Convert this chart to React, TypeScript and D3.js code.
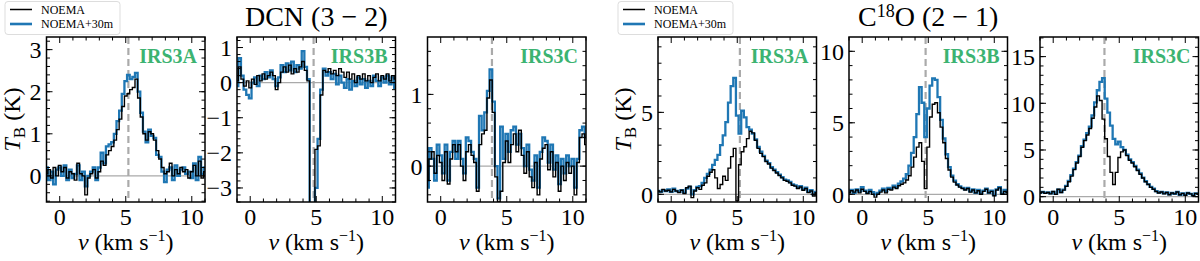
import * as d3 from "d3";

// channel velocities (km/s)
const velocity = [
  -1.0, -0.8, -0.6, -0.4, -0.2, 0.0, 0.2, 0.4, 0.6, 0.8, 1.0, 1.2, 1.4, 1.6, 1.8, 2.0,
  2.2, 2.4, 2.6, 2.8, 3.0, 3.2, 3.4, 3.6, 3.8, 4.0, 4.2, 4.4, 4.6, 4.8, 5.0, 5.2, 5.4,
  5.6, 5.8, 6.0, 6.2, 6.4, 6.6, 6.8, 7.0, 7.2, 7.4, 7.6, 7.8, 8.0, 8.2, 8.4, 8.6, 8.8,
  9.0, 9.2, 9.4, 9.6, 9.8, 10.0, 10.2, 10.4, 10.6, 10.8, 11.0,
];

// DCN (3-2)
const dcnA_noema = [
  0.05, 0.15, -0.05, 0.2, 0.0, 0.25, 0.1, 0.2, -0.05, 0.1, 0.05, -0.1, 0.3, 0.05, 0.0, -0.45,
  -0.05, 0.05, 0.15, -0.05, 0.1, 0.35, 0.25, 0.5, 0.6, 0.7, 0.85, 1.1, 1.35, 1.65, 1.9, 1.95, 2.05,
  2.1, 2.3, 1.85, 1.4, 1.0, 0.85, 1.05, 1.0, 0.85, 0.6, 0.4, 0.2, 0.05, 0.1, 0.3, 0.0, 0.15,
  0.05, 0.2, 0.1, 0.15, -0.05, 0.1, 0.25, 0.0, 0.35, -0.05, 0.1,
];
const dcnA_combo = [
  0.2, -0.1, 0.1, -0.2, 0.15, 0.2, 0.0, 0.25, -0.1, 0.15, -0.05, 0.05, 0.25, -0.1, 0.1, -0.25,
  0.0, 0.1, 0.2, -0.1, 0.2, 0.55, 0.3, 0.7, 0.75, 0.8, 1.0, 1.3, 1.55, 1.95, 2.25, 2.4, 2.3,
  2.35, 2.45, 2.0, 1.5, 1.05, 0.8, 1.1, 0.95, 0.9, 0.5, 0.45, 0.1, -0.15, 0.15, 0.2, -0.1, 0.25,
  0.0, 0.15, 0.2, 0.05, 0.1, -0.05, 0.3, -0.1, 0.45, 0.05, 0.2,
];
const dcnB_noema = [
  0.05, 0.45, 0.1, -0.1, 0.05, -0.15, 0.1, -0.05, 0.2, 0.05, 0.25, 0.1, 0.2, 0.3, 0.2, -0.2,
  0.0, 0.3, 0.45, 0.3, 0.5, 0.25, 0.4, 0.3, 0.45, 0.6, 0.35, 0.05, -3.6, -3.6, -1.9, -1.8, -0.35,
  0.35, 0.3, 0.4, 0.25, 0.35, 0.2, 0.4, 0.3, 0.15, 0.3, 0.1, 0.25, 0.0, 0.2, 0.1, 0.25, 0.05,
  0.2, 0.0, 0.15, 0.25, 0.05, 0.2, 0.1, 0.25, 0.05, 0.2, 0.1,
];
const dcnB_combo = [
  -0.1, 0.7, 0.2, -0.2, -0.35, -0.45, 0.0, 0.15, -0.1, 0.2, 0.1, 0.3, 0.15, 0.35, 0.1, -0.1,
  0.15, 0.5, 0.3, 0.55, 0.35, 0.6, 0.3, 0.5, 0.4, 0.9, 0.45, 0.1, -3.6, -3.6, -3.0, -1.6, -0.2,
  0.4, 0.2, 0.3, 0.1, 0.25, -0.05, 0.2, 0.0, -0.15, 0.1, -0.2, 0.05, -0.1, 0.15, -0.05, 0.1, -0.15,
  0.05, -0.1, 0.2, 0.05, -0.1, 0.15, 0.0, 0.2, -0.05, 0.15, -0.15,
];
const dcnC_noema = [
  -0.2, 0.1, 0.2, -0.1, 0.15, 0.05, -0.2, 0.2, -0.25, 0.1, 0.3, 0.2, 0.3, 0.0, -0.2, 0.2,
  0.3, 0.15, 0.05, -0.35, 0.3, 0.45, 0.5, 0.95, 1.2, 0.75, -0.15, -0.5, -0.35, 0.05, 0.35, 0.05, 0.3,
  0.45, 0.2, 0.5, 0.15, -0.1, 0.2, -0.15, -0.3, 0.05, -0.4, 0.1, 0.25, 0.3, -0.05, 0.2, -0.15, 0.05,
  -0.35, 0.0, -0.2, 0.05, -0.1, 0.0, -0.4, 0.05, 0.4, 0.45, 0.3,
];
const dcnC_combo = [
  -0.3, 0.25, 0.1, -0.2, 0.3, 0.15, -0.1, 0.3, -0.2, 0.2, 0.35, 0.1, 0.35, 0.1, -0.1, 0.4,
  0.35, 0.2, 0.1, -0.3, 0.7, 0.5, 0.75, 1.05, 1.35, 0.9, 0.0, -0.45, 0.55, 0.1, 0.45, 0.2, 0.5,
  0.55, 0.3, 0.45, 0.25, 0.0, 0.3, -0.05, -0.2, 0.15, -0.3, 0.2, 0.4, 0.35, 0.05, 0.3, -0.05, 0.15,
  -0.25, 0.1, -0.1, 0.15, 0.0, 0.1, -0.3, 0.1, 0.5, 0.55, 0.4,
];

// C18O (2-1)
const c18oA_noema = [
  0.2, 0.15, 0.3, 0.2, 0.25, 0.15, 0.3, 0.2, 0.1, 0.25, 0.05, 0.4, 0.5, -0.2, 0.2, 0.4,
  0.3, 0.55, 0.7, 1.1, 1.35, 1.5, 1.0, 0.35, 0.6, 1.1, 0.85, 1.6, 2.3, 2.8, -0.4, 1.8, 2.6,
  2.9, 3.4, 3.85, 3.75, 3.3, 2.8, 2.5, 2.3, 2.0, 1.85, 1.6, 1.45, 1.3, 1.15, 1.0, 0.85, 0.8,
  0.7, 0.55, 0.5, 0.35, 0.45, 0.25, 0.35, 0.1, 0.2, -0.1, 0.1,
];
const c18oA_combo = [
  0.2, 0.15, 0.25, 0.2, 0.3, 0.15, 0.35, 0.2, 0.15, 0.25, 0.1, 0.35, 0.45, 0.0, 0.25, 0.45,
  0.5, 0.7, 1.0, 1.25, 1.5, 1.8, 2.1, 2.4, 3.0, 3.6, 4.4, 5.6, 6.6, 7.1, 4.8, 3.7, 5.1,
  4.7, 4.1, 3.95, 3.7, 3.35, 2.9, 2.6, 2.35, 2.05, 1.9, 1.65, 1.5, 1.35, 1.2, 1.05, 0.9, 0.85,
  0.75, 0.6, 0.55, 0.4, 0.5, 0.3, 0.4, 0.15, 0.25, 0.0, 0.15,
];
const c18oB_noema = [
  0.1, 0.25, 0.15, 0.3, 0.1, 0.35, 0.2, 0.05, 0.2, 0.0, -0.2, 0.0, 0.15, 0.3, 0.1, 0.35,
  0.3, 0.5, 0.4, 0.6, 0.7, 0.8, 1.0, 1.3, 1.9, 2.6, 3.3, 3.6, 2.3, 0.4, 3.3, 5.4, 6.3,
  6.4, 5.7, 4.7, 3.6, 2.5, 1.7, 1.2, 0.85, 0.65, 0.5, 0.4, 0.3, 0.4, 0.15, 0.3, 0.1, 0.25,
  0.0, 0.2, 0.35, 0.1, 0.2, -0.1, 0.3, 0.45, 0.0, 0.2, 0.1,
];
const c18oB_combo = [
  0.15, 0.3, 0.1, 0.35, 0.2, 0.5, 0.25, 0.1, 0.3, 0.15, 0.0, 0.1, 0.25, 0.4, 0.2, 0.45,
  0.4, 0.6, 0.5, 0.75, 0.9, 1.1, 1.4, 2.0, 2.9, 4.0, 5.6, 7.5, 6.4, 4.0, 6.0, 7.6, 8.1,
  8.0, 6.8, 5.2, 3.9, 2.8, 1.9, 1.3, 0.95, 0.7, 0.55, 0.45, 0.35, 0.45, 0.2, 0.35, 0.1, 0.3,
  0.05, 0.25, 0.4, 0.1, 0.25, -0.05, 0.35, 0.5, 0.05, 0.3, 0.15,
];
const c18oC_noema = [
  0.4, 0.5, 0.35, 0.45, 0.3, 0.55, 0.25, 0.8, 0.45, 0.7, 1.1, 1.6, 2.2, 2.9, 3.6, 4.3,
  5.3, 6.0, 6.6, 7.3, 8.4, 9.6, 10.8, 10.3, 8.3, 6.2, 4.3, 2.6, 1.3, 2.6, 4.2, 4.8, 5.0,
  4.4, 3.9, 3.6, 3.2, 2.8, 2.4, 2.0, 1.6, 1.3, 1.0, 0.8, 0.55, 0.4, 0.5, 0.3, 0.45, 0.2,
  0.4, 0.3, 0.5, 0.2, 0.35, 0.15, 0.4, 0.3, 0.1, 0.35, 0.25,
];
const c18oC_combo = [
  0.45, 0.5, 0.4, 0.45, 0.35, 0.5, 0.3, 0.75, 0.5, 0.75, 1.15, 1.7, 2.3, 3.0, 3.7, 4.4,
  5.4, 6.1, 6.8, 7.5, 8.7, 10.1, 11.4, 12.3, 12.7, 10.5, 9.0, 7.6, 6.2, 5.6, 5.9, 5.3, 5.0,
  4.5, 4.0, 3.7, 3.3, 2.9, 2.5, 2.05, 1.65, 1.35, 1.05, 0.85, 0.6, 0.45, 0.5, 0.35, 0.45, 0.25,
  0.4, 0.3, 0.5, 0.2, 0.35, 0.2, 0.4, 0.3, 0.15, 0.35, 0.3,
];

const sources = ["IRS3A", "IRS3B", "IRS3C"];
const vsys = [5.2, 4.8, 3.88];
const xTicks = [0, 5, 10];

const yDomains = [
  [-0.62, 3.3], [-3.4, 1.3], [-0.5, 1.8],
  [-0.47, 9.6], [-0.54, 11.0], [-0.57, 17.1],
];
const yTicks = [
  [0, 1, 2, 3], [-3, -2, -1, 0, 1], [0, 1],
  [0, 5], [0, 5, 10], [0, 5, 10, 15],
];
const yMinorStep = [0.2, 0.2, 0.2, 1, 1, 1];

const noemaSeries = [dcnA_noema, dcnB_noema, dcnC_noema, c18oA_noema, c18oB_noema, c18oC_noema];
const comboSeries = [dcnA_combo, dcnB_combo, dcnC_combo, c18oA_combo, c18oB_combo, c18oC_combo];

const W = 1200;
const H = 261;
const lefts = [46.5, 237, 427.5, 658, 849, 1040];
const pw = 158.5;
const top = 37;
const bottom = 202;
const font = "'Liberation Serif', 'Times New Roman', serif";
const blue = "#1f77b4";
const green = "#3cb371";

const fmt = (v: number) => (v < 0 ? "\u2212" + Math.abs(v) : String(v));

function Panel({ i }: { i: number }) {
  const left = lefts[i];
  const x = d3.scaleLinear().domain([-1, 11]).range([left, left + pw]);
  const y = d3.scaleLinear().domain(yDomains[i]).range([bottom, top]);
  const line = d3
    .line<number>()
    .x((_, k) => x(velocity[k]))
    .y((d) => y(d))
    .curve(d3.curveStep);
  const [y0, y1] = yDomains[i];
  const step = yMinorStep[i];
  const yMinor = d3.range(Math.ceil(y0 / step) * step, y1, step);
  const xMinor = d3.range(-1, 11.01, 1);
  const clip = `clip${i}`;
  const src = i % 3;
  return (
    <g>
      <defs>
        <clipPath id={clip}>
          <rect x={left} y={top} width={pw} height={bottom - top} />
        </clipPath>
      </defs>
      <g clipPath={`url(#${clip})`}>
        <line x1={left} x2={left + pw} y1={y(0)} y2={y(0)} stroke="#aaaaaa" strokeWidth={1.3} />
        <line
          x1={x(vsys[src])}
          x2={x(vsys[src])}
          y1={top}
          y2={bottom}
          stroke="#aaaaaa"
          strokeWidth={2.2}
          strokeDasharray="7,4"
        />
        <path d={line(comboSeries[i]) || ""} fill="none" stroke={blue} strokeWidth={2.3} />
        <path d={line(noemaSeries[i]) || ""} fill="none" stroke="#000" strokeWidth={1.4} />
      </g>
      {/* ticks, all inward on four sides */}
      <g stroke="#000" strokeWidth={1}>
        {xMinor.map((t) => {
          const major = xTicks.includes(t);
          const len = major ? 6 : 3.5;
          return (
            <g key={"x" + t}>
              <line x1={x(t)} x2={x(t)} y1={bottom} y2={bottom - len} />
              <line x1={x(t)} x2={x(t)} y1={top} y2={top + len} />
            </g>
          );
        })}
        {yMinor.map((t) => (
          <g key={"ym" + t}>
            <line x1={left} x2={left + 3.5} y1={y(t)} y2={y(t)} />
            <line x1={left + pw} x2={left + pw - 3.5} y1={y(t)} y2={y(t)} />
          </g>
        ))}
        {yTicks[i].map((t) => (
          <g key={"yM" + t}>
            <line x1={left} x2={left + 6} y1={y(t)} y2={y(t)} />
            <line x1={left + pw} x2={left + pw - 6} y1={y(t)} y2={y(t)} />
          </g>
        ))}
      </g>
      <rect x={left} y={top} width={pw} height={bottom - top} fill="none" stroke="#000" strokeWidth={1.5} />
      <g fontFamily={font} fontSize={24} fill="#000">
        {xTicks.map((t) => (
          <text key={t} x={x(t)} y={bottom + 23} textAnchor="middle">
            {t}
          </text>
        ))}
        {yTicks[i].map((t) => (
          <text key={t} x={left - 5} y={y(t)} dy="0.35em" textAnchor="end">
            {fmt(t)}
          </text>
        ))}
        <text x={left + pw / 2} y={250} textAnchor="middle">
          <tspan fontStyle="italic">v</tspan>
          <tspan> (km s</tspan>
          <tspan dy={-9} fontSize={16}>{"\u22121"}</tspan>
          <tspan dy={9}>)</tspan>
        </text>
        {src === 0 && (
          <text transform={`translate(${left - 27},${(top + bottom) / 2}) rotate(-90)`} textAnchor="middle">
            <tspan fontStyle="italic">T</tspan>
            <tspan dy={5} fontSize={17}>B</tspan>
            <tspan dy={-5}> (K)</tspan>
          </text>
        )}
      </g>
      <text
        x={left + pw - 8}
        y={top + 26}
        textAnchor="end"
        fontFamily={font}
        fontWeight="bold"
        fontSize={20}
        fill={green}
      >
        {sources[src]}
      </text>
    </g>
  );
}

function Legend({ x0 }: { x0: number }) {
  return (
    <g fontFamily={font} fontSize={12}>
      <rect x={x0} y={1.5} width={115} height={33} rx={3} fill="#fff" stroke="#dddddd" strokeWidth={1} />
      <line x1={x0 + 5} x2={x0 + 27} y1={9.5} y2={9.5} stroke="#000" strokeWidth={1.5} />
      <line x1={x0 + 5} x2={x0 + 27} y1={24} y2={24} stroke={blue} strokeWidth={2.6} />
      <text x={x0 + 36} y={13.5}>NOEMA</text>
      <text x={x0 + 36} y={28}>NOEMA+30m</text>
    </g>
  );
}

export default function App() {
  return (
    <svg
      width={W}
      height={H}
      style={{ position: "absolute", left: 0, top: 0, background: "#fff" }}
    >
      {lefts.map((_, i) => (
        <Panel key={i} i={i} />
      ))}
      <Legend x0={5} />
      <Legend x0={618} />
      <text x={lefts[1] + pw / 2} y={26} textAnchor="middle" fontFamily={font} fontSize={28}>
        {"DCN (3 \u2212 2)"}
      </text>
      <text x={lefts[4] + pw / 2} y={26} textAnchor="middle" fontFamily={font} fontSize={28}>
        <tspan>C</tspan>
        <tspan dy={-9} fontSize={18}>18</tspan>
        <tspan dy={9}>{"O (2 \u2212 1)"}</tspan>
      </text>
    </svg>
  );
}
